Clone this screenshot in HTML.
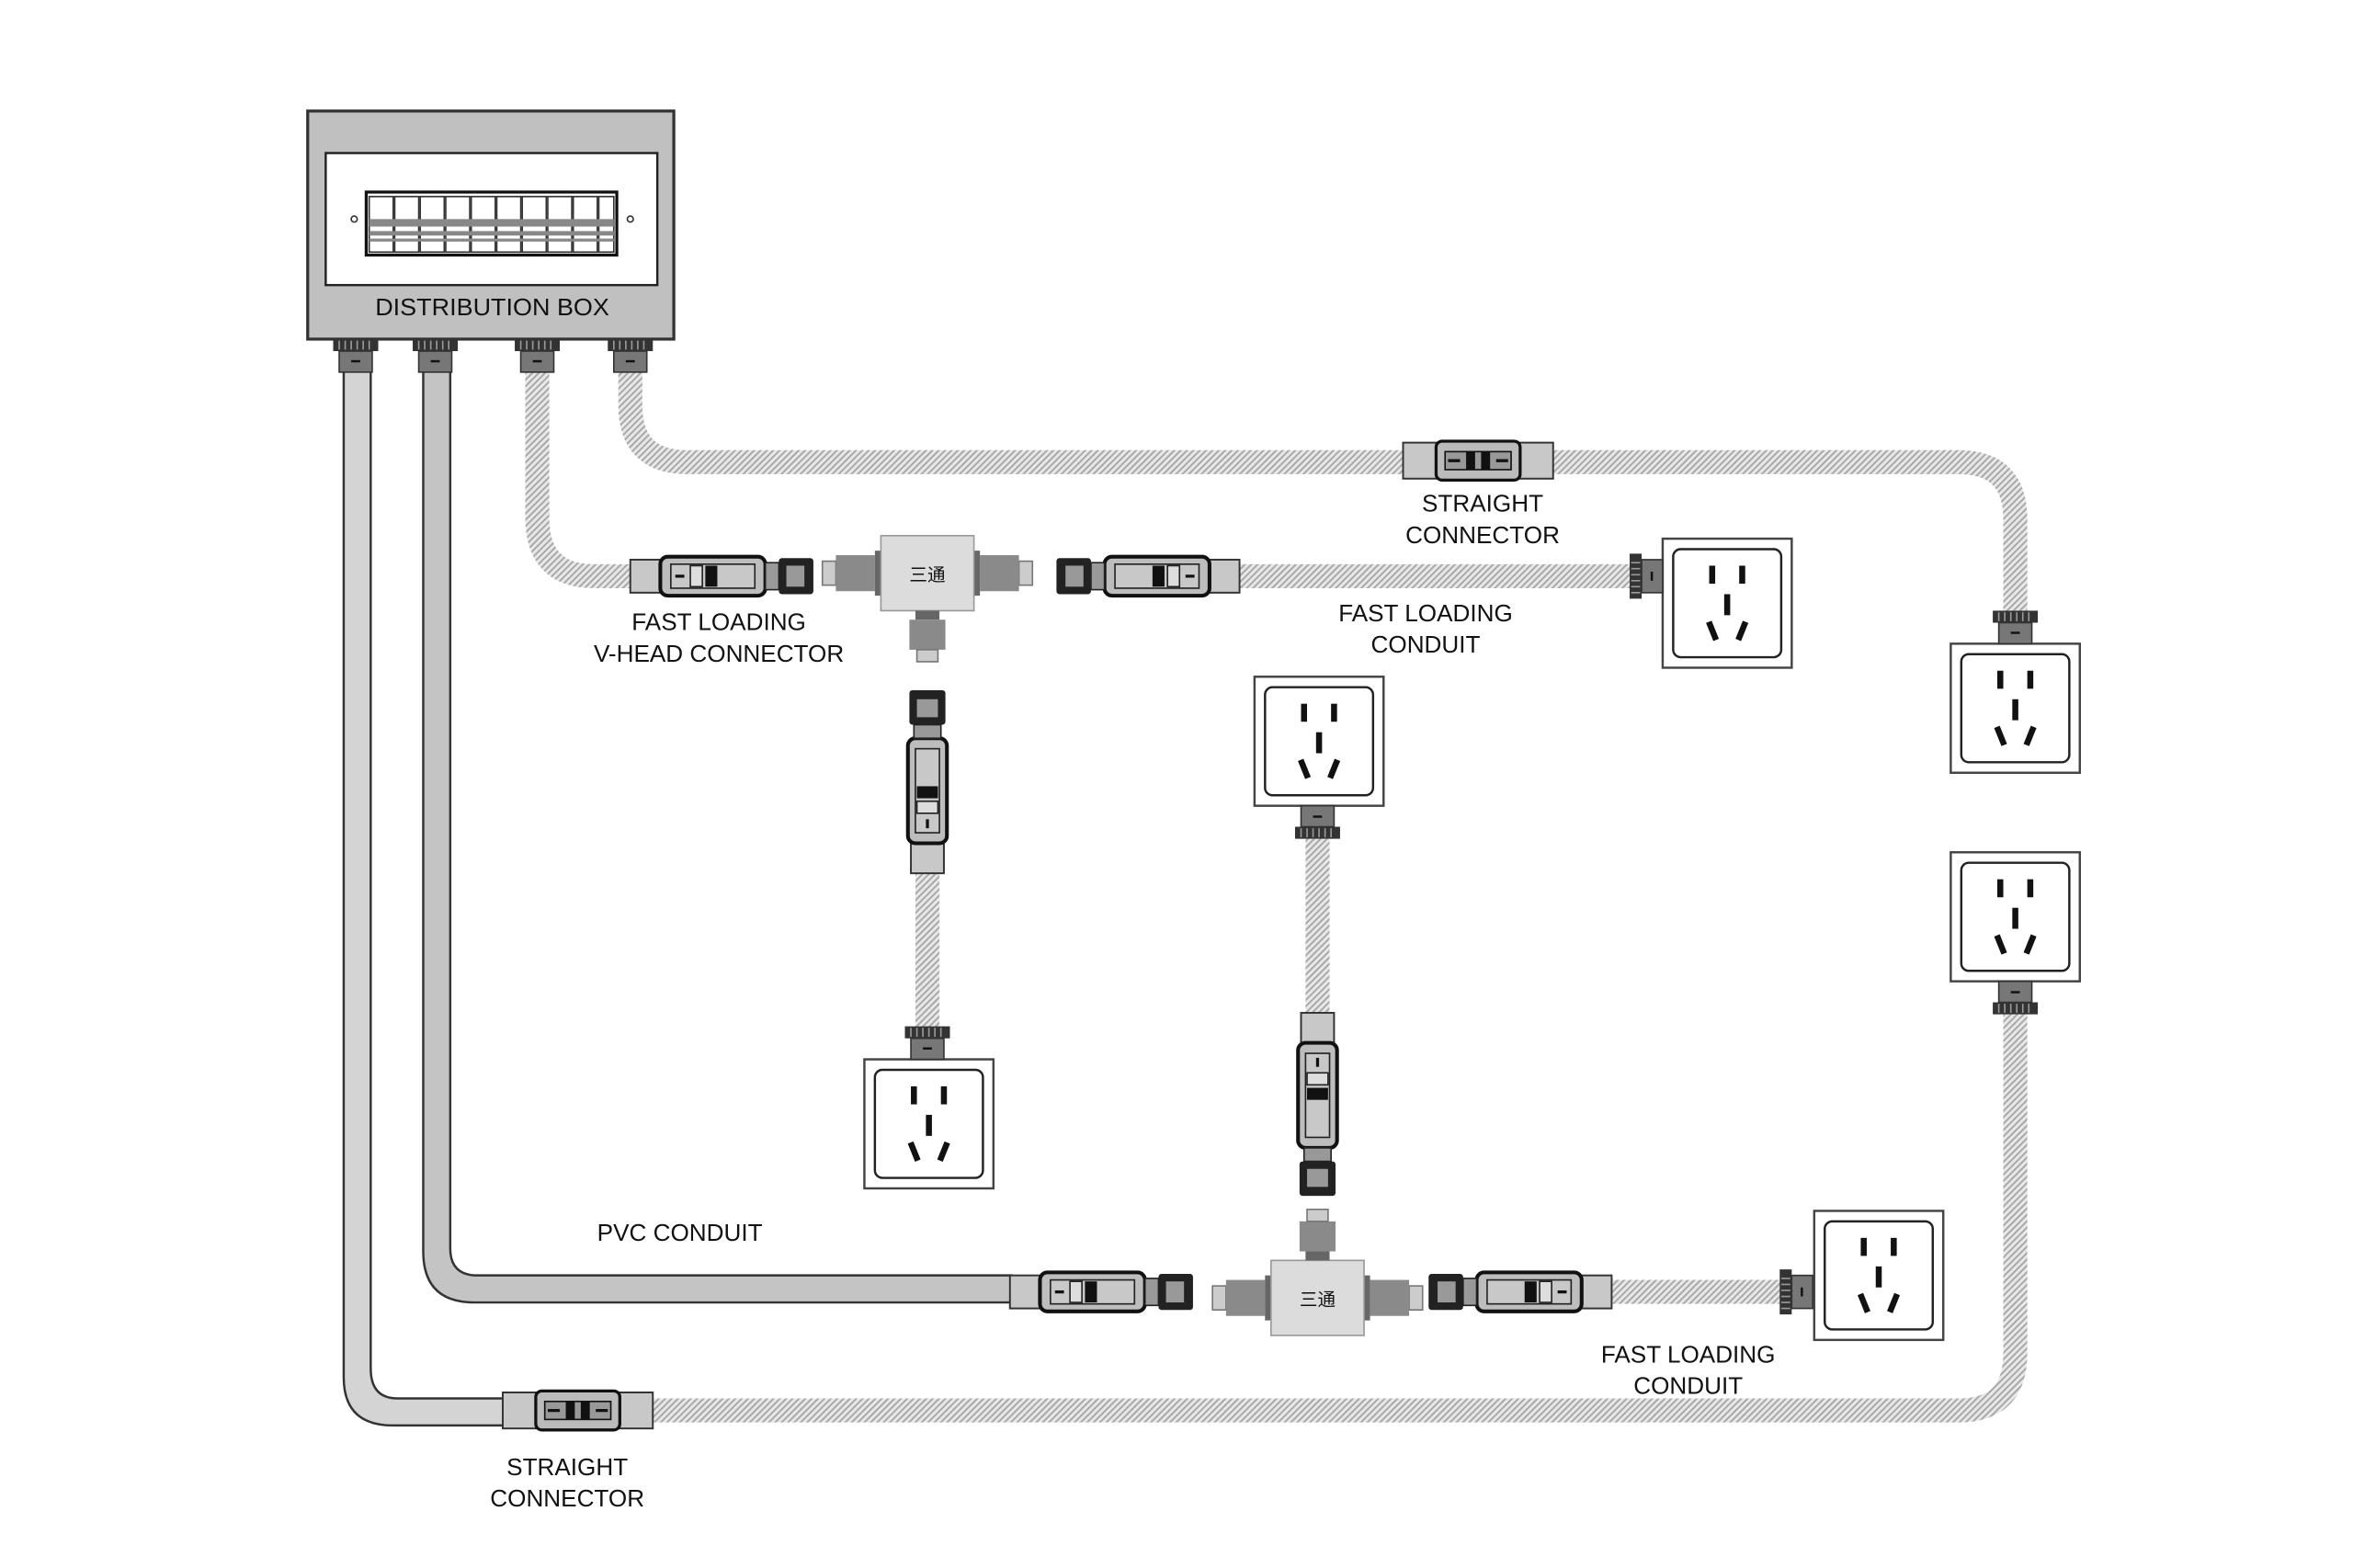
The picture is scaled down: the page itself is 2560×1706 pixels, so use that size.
<!DOCTYPE html>
<html><head><meta charset="utf-8"><style>
html,body{margin:0;padding:0;background:#fff;}
svg{display:block;}
text{font-family:"Liberation Sans","Noto Sans CJK SC",sans-serif;fill:#111;}
</style></head><body>
<svg width="2560" height="1706" viewBox="0 0 1568 1045" xmlns="http://www.w3.org/2000/svg">
<defs>
<pattern id="h" width="3" height="3" patternUnits="userSpaceOnUse" patternTransform="rotate(45)">
<rect width="3" height="3" fill="#e8e8e8"/><rect width="1.2" height="3" fill="#a8a8a8"/>
</pattern>
<g id="sock">
<rect x="0" y="0" width="86" height="86" fill="#fff" stroke="#444" stroke-width="1.5"/>
<rect x="7" y="7" width="72" height="72" rx="5" fill="#fff" stroke="#222" stroke-width="1.5"/>
<rect x="31" y="18" width="4" height="12" fill="#111"/><rect x="51" y="18" width="4" height="12" fill="#111"/>
<rect x="41" y="37" width="4" height="14" fill="#111"/>
<rect x="31" y="55" width="4" height="13" fill="#111" transform="rotate(-22 33 61)"/>
<rect x="51" y="55" width="4" height="13" fill="#111" transform="rotate(22 53 61)"/>
</g>
<g id="gland">
<rect x="-15" y="0" width="30" height="8" fill="#333"/>
<path d="M-11 1v6M-7 1v6M-3 1v6M1 1v6M5 1v6M9 1v6" stroke="#999" stroke-width="1"/>
<rect x="-11" y="8" width="22" height="14" fill="#777" stroke="#333"/>
<rect x="-3" y="14" width="6" height="1.5" fill="#111"/>
</g>
<g id="fc">
<rect x="0" y="-11" width="24" height="22" fill="#c8c8c8" stroke="#333" stroke-width="1.2"/>
<rect x="20" y="-13" width="70" height="26" rx="5" fill="#bdbdbd" stroke="#111" stroke-width="2.5"/>
<rect x="27" y="-8" width="56" height="16" fill="#c8c8c8" stroke="#222"/>
<rect x="40" y="-7" width="8" height="14" fill="#ddd" stroke="#222"/>
<rect x="50" y="-7" width="8" height="14" fill="#111"/>
<rect x="30" y="-1" width="6" height="2" fill="#111"/>
<rect x="90" y="-9" width="9" height="18" fill="#999" stroke="#222"/>
<rect x="99" y="-12" width="23" height="24" rx="2" fill="#222"/>
<rect x="104" y="-7" width="12" height="14" fill="#999"/>
</g>
<g id="sc">
<rect x="0" y="-12" width="24" height="24" fill="#c8c8c8" stroke="#333" stroke-width="1.2"/>
<rect x="76" y="-12" width="24" height="24" fill="#c8c8c8" stroke="#333" stroke-width="1.2"/>
<rect x="22" y="-13" width="56" height="26" rx="4" fill="#bbb" stroke="#111" stroke-width="2"/>
<rect x="28" y="-6" width="44" height="12" fill="#999" stroke="#111"/>
<rect x="42" y="-6" width="6" height="12" fill="#111"/><rect x="52" y="-6" width="6" height="12" fill="#111"/>
<path d="M30 0h8M62 0h8" stroke="#111" stroke-width="2"/>
</g>
<g id="tee">
<rect x="-70" y="-8" width="9" height="16" fill="#ccc" stroke="#777"/>
<rect x="-61" y="-12" width="26" height="24" fill="#8a8a8a"/>
<rect x="-35" y="-15" width="5" height="30" fill="#666"/>
<rect x="61" y="-8" width="9" height="16" fill="#ccc" stroke="#777"/>
<rect x="35" y="-12" width="26" height="24" fill="#8a8a8a"/>
<rect x="30" y="-15" width="5" height="30" fill="#666"/>
<rect x="-31" y="-25" width="62" height="50" fill="#dcdcdc" stroke="#999"/>
<text x="0" y="5" font-size="12" text-anchor="middle">三通</text>
</g>
</defs>

<g fill="none" stroke="url(#h)" stroke-width="16">
<path d="M420 247V270Q420 308 458 308H1305Q1343 308 1343 346V408"/>
<path d="M358 247V345Q358 384 396 384H420"/>
<path d="M826 384H1090"/>
<path d="M618 582V686"/>
<path d="M878 559V676"/>
<path d="M1074 861H1190"/>
<path d="M433 940H1305Q1343 940 1343 902V676"/>
</g>
<g fill="#c9c9c9" stroke="#333" stroke-width="1.5">
<path d="M229 247H247V912Q247 932 265 932H336V950H262Q229 950 229 918Z" fill="#d4d4d4"/>
<path d="M282 247H300V832Q300 850 318 850H674V868H316Q282 868 282 834Z" fill="#c4c4c4"/>
</g>

<rect x="205" y="74" width="244" height="152" fill="#c0c0c0" stroke="#333" stroke-width="2"/>
<rect x="217" y="102" width="221" height="88" fill="#fff" stroke="#222" stroke-width="1.5"/>
<rect x="244" y="128" width="167" height="42" fill="#fff" stroke="#111" stroke-width="2"/>
<g stroke="#333" stroke-width="1">
<rect x="246" y="131" width="16" height="37" fill="#fff"/><rect x="263" y="131" width="16" height="37" fill="#fff"/><rect x="280" y="131" width="16" height="37" fill="#fff"/><rect x="297" y="131" width="16" height="37" fill="#fff"/><rect x="314" y="131" width="16" height="37" fill="#fff"/><rect x="331" y="131" width="16" height="37" fill="#fff"/><rect x="348" y="131" width="16" height="37" fill="#fff"/><rect x="365" y="131" width="16" height="37" fill="#fff"/><rect x="382" y="131" width="16" height="37" fill="#fff"/><rect x="399" y="131" width="10" height="37" fill="#fff"/>
</g>
<g fill="#888"><rect x="246" y="146" width="163" height="5"/><rect x="246" y="154" width="163" height="3"/><rect x="246" y="159" width="163" height="2"/></g>
<circle cx="236" cy="146" r="2" fill="none" stroke="#333"/><circle cx="420" cy="146" r="2" fill="none" stroke="#333"/>
<text x="328" y="210" font-size="16" text-anchor="middle" textLength="156" lengthAdjust="spacingAndGlyphs">DISTRIBUTION BOX</text>
<use href="#gland" x="237" y="226"/><use href="#gland" x="290" y="226"/><use href="#gland" x="358" y="226"/><use href="#gland" x="420" y="226"/>

<use href="#sc" x="935" y="307"/>
<use href="#sc" x="335" y="940"/>
<use href="#fc" x="420" y="384"/>
<use href="#fc" transform="translate(826 384) scale(-1 1)"/>
<use href="#fc" x="673" y="861"/>
<use href="#fc" transform="translate(1074 861) scale(-1 1)"/>
<use href="#fc" transform="translate(618 582) rotate(-90)"/>
<use href="#fc" transform="translate(878 675) rotate(90)"/>

<use href="#tee" x="618" y="382"/>
<g transform="translate(618 382)"><rect x="-8" y="25" width="16" height="6" fill="#666"/><rect x="-12" y="31" width="24" height="20" fill="#8a8a8a"/><rect x="-7" y="51" width="14" height="8" fill="#ccc" stroke="#777"/></g>
<use href="#tee" x="878" y="865"/>
<g transform="translate(878 865)"><rect x="-8" y="-31" width="16" height="6" fill="#666"/><rect x="-12" y="-51" width="24" height="20" fill="#8a8a8a"/><rect x="-7" y="-59" width="14" height="8" fill="#ccc" stroke="#777"/></g>

<use href="#sock" x="1108" y="359"/>
<g transform="translate(1098 384) rotate(-90)"><use href="#gland" x="0" y="-12"/></g>
<use href="#sock" x="1300" y="429"/><use href="#gland" x="1343" y="407"/>
<use href="#sock" x="576" y="706"/><use href="#gland" x="618" y="684"/>
<use href="#sock" x="836" y="451"/><g transform="translate(878 559) scale(1 -1)"><use href="#gland"/></g>
<use href="#sock" x="1300" y="568"/><g transform="translate(1343 676) scale(1 -1)"><use href="#gland"/></g>
<use href="#sock" x="1209" y="807"/>
<g transform="translate(1198 861) rotate(-90)"><use href="#gland" x="0" y="-12"/></g>

<g font-size="16" text-anchor="middle">
<text x="988" y="341">STRAIGHT</text><text x="988" y="362">CONNECTOR</text>
<text x="479" y="420">FAST LOADING</text><text x="479" y="441">V-HEAD CONNECTOR</text>
<text x="950" y="414">FAST LOADING</text><text x="950" y="435">CONDUIT</text>
<text x="453" y="827">PVC CONDUIT</text>
<text x="1125" y="908">FAST LOADING</text><text x="1125" y="929">CONDUIT</text>
<text x="378" y="983">STRAIGHT</text><text x="378" y="1004">CONNECTOR</text>
</g>
</svg>
</body></html>
